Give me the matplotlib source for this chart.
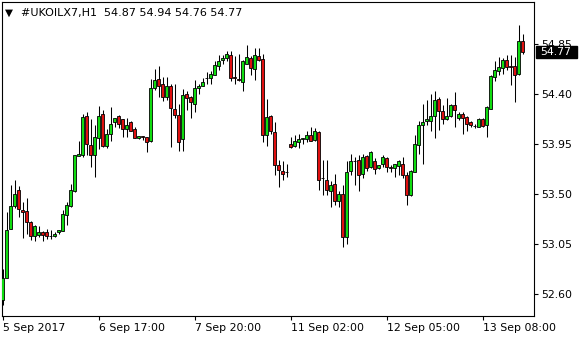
import matplotlib
matplotlib.use("Agg")
import matplotlib.pyplot as plt
from matplotlib.patches import Rectangle
from matplotlib.transforms import IdentityTransform
import numpy as np

symbol = "#UKOILX7,H1"

# hourly bars, oldest first
opens = [52.54, 52.74, 53.18, 53.39, 53.53, 53.35, 53.34, 53.24, 53.12, 53.13,
         53.15, 53.15, 53.12, 53.12, 53.15, 53.16, 53.31, 53.39, 53.52, 53.84,
         53.85, 54.20, 53.94, 53.85, 54.00, 54.22, 53.93, 54.04, 54.14, 54.20,
         54.17, 54.08, 54.14, 54.08, 54.00, 54.02, 54.01, 53.97, 54.45, 54.53,
         54.49, 54.37, 54.47, 54.26, 54.21, 53.99, 54.40, 54.37, 54.31, 54.45,
         54.47, 54.54, 54.54, 54.57, 54.65, 54.70, 54.72, 54.75, 54.55, 54.53,
         54.50, 54.67, 54.72, 54.62, 54.74, 54.71, 54.03, 54.20, 54.05, 53.76,
         53.70, 53.69, 53.95, 53.93, 53.96, 53.99, 53.99, 54.03, 53.98, 54.05,
         53.64, 53.62, 53.52, 53.59, 53.43, 53.50, 53.11, 53.70, 53.79, 53.80,
         53.68, 53.84, 53.74, 53.79, 53.73, 53.77, 53.82, 53.74, 53.73, 53.75,
         53.77, 53.67, 53.49, 53.69, 53.94, 54.12, 54.15, 54.15, 54.20, 54.35,
         54.24, 54.17, 54.20, 54.30, 54.18, 54.22, 54.19, 54.14, 54.11, 54.10,
         54.17, 54.12, 54.26, 54.55, 54.60, 54.63, 54.70, 54.65, 54.65, 54.58,
         54.87]
highs = [52.82, 53.33, 53.58, 53.62, 53.57, 53.42, 53.46, 53.25, 53.22, 53.21,
         53.16, 53.18, 53.17, 53.15, 53.17, 53.35, 53.42, 53.59, 53.85, 53.97,
         54.22, 54.23, 54.17, 54.12, 54.29, 54.25, 54.08, 54.28, 54.18, 54.21,
         54.17, 54.18, 54.15, 54.10, 54.02, 54.02, 54.01, 54.53, 54.62, 54.65,
         54.55, 54.55, 54.49, 54.49, 54.31, 54.44, 54.42, 54.38, 54.52, 54.49,
         54.54, 54.59, 54.60, 54.69, 54.75, 54.75, 54.78, 54.78, 54.74, 54.76,
         54.70, 54.84, 54.74, 54.81, 54.81, 54.76, 54.35, 54.21, 54.14, 53.80,
         53.79, 53.77, 54.01, 54.03, 54.04, 54.00, 54.06, 54.10, 54.09, 54.06,
         53.80, 53.80, 53.61, 53.68, 53.52, 53.58, 53.79, 53.86, 53.83, 53.85,
         53.86, 53.85, 53.88, 53.82, 53.76, 53.85, 53.83, 53.76, 53.77, 53.80,
         53.83, 53.69, 53.71, 54.03, 54.15, 54.31, 54.34, 54.40, 54.42, 54.37,
         54.30, 54.36, 54.31, 54.41, 54.23, 54.23, 54.20, 54.15, 54.13, 54.18,
         54.18, 54.29, 54.57, 54.69, 54.73, 54.72, 54.75, 54.75, 54.73, 55.02,
         54.94]
lows = [52.50, 52.74, 53.18, 53.37, 53.29, 53.10, 53.14, 53.08, 53.07, 53.11,
        53.07, 53.09, 53.09, 53.11, 53.14, 53.16, 53.22, 53.38, 53.51, 53.84,
        53.83, 53.85, 53.74, 53.65, 53.90, 53.92, 53.91, 53.97, 54.10, 54.09,
        54.01, 54.01, 54.06, 54.00, 53.99, 53.98, 53.87, 53.96, 54.43, 54.37,
        54.33, 54.34, 53.92, 54.18, 53.88, 53.88, 54.25, 54.18, 54.23, 54.40,
        54.47, 54.49, 54.49, 54.57, 54.61, 54.67, 54.69, 54.51, 54.49, 54.51,
        54.42, 54.67, 54.57, 54.52, 54.69, 53.96, 53.93, 54.04, 53.67, 53.56,
        53.62, 53.65, 53.91, 53.92, 53.91, 53.95, 53.96, 53.97, 53.97, 53.53,
        53.49, 53.49, 53.38, 53.40, 53.38, 53.02, 53.05, 53.67, 53.58, 53.52,
        53.64, 53.70, 53.73, 53.68, 53.72, 53.74, 53.69, 53.69, 53.65, 53.67,
        53.64, 53.40, 53.48, 53.69, 53.86, 53.77, 54.12, 54.06, 54.00, 54.07,
        54.13, 54.16, 54.19, 54.10, 54.16, 54.04, 54.06, 54.10, 54.09, 54.10,
        54.10, 54.01, 54.26, 54.51, 54.57, 54.58, 54.61, 54.48, 54.32, 54.57,
        54.76]
closes = [52.74, 53.17, 53.39, 53.50, 53.36, 53.33, 53.24, 53.12, 53.21, 53.15,
          53.13, 53.12, 53.12, 53.14, 53.17, 53.32, 53.40, 53.53, 53.85, 53.86,
          54.19, 53.95, 53.85, 54.01, 54.20, 53.93, 54.04, 54.13, 54.18, 54.13,
          54.08, 54.12, 54.06, 54.00, 54.02, 54.01, 53.96, 54.45, 54.52, 54.47,
          54.37, 54.47, 54.27, 54.21, 53.96, 54.39, 54.36, 54.32, 54.45, 54.47,
          54.50, 54.54, 54.58, 54.66, 54.69, 54.72, 54.76, 54.54, 54.54, 54.52,
          54.69, 54.73, 54.63, 54.75, 54.70, 54.03, 54.19, 54.06, 53.76, 53.71,
          53.68, 53.69, 53.92, 53.97, 53.99, 54.00, 54.03, 53.97, 54.06, 53.62,
          53.64, 53.53, 53.58, 53.43, 53.50, 53.11, 53.69, 53.79, 53.79, 53.67,
          53.83, 53.73, 53.87, 53.72, 53.76, 53.83, 53.74, 53.73, 53.77, 53.79,
          53.67, 53.49, 53.70, 53.95, 54.12, 54.14, 54.17, 54.20, 54.34, 54.24,
          54.17, 54.20, 54.30, 54.25, 54.22, 54.18, 54.13, 54.12, 54.11, 54.17,
          54.11, 54.28, 54.56, 54.61, 54.64, 54.70, 54.64, 54.64, 54.57, 54.87,
          54.77]

tick_bars = [0, 24, 48, 72, 96, 120]
tick_labels = ["5 Sep 2017", "6 Sep 17:00", "7 Sep 20:00",
               "11 Sep 02:00", "12 Sep 05:00", "13 Sep 08:00"]
price_ticks = [52.60, 53.05, 53.50, 53.95, 54.40, 54.85]

bull = "#10dc10"
bear = "#e01010"

plt.rcParams["font.family"] = "DejaVu Sans"
plt.rcParams["font.size"] = 7.8

W, H = 580, 340
fig = plt.figure(figsize=(W / 100, H / 100), dpi=100)
fig.patch.set_facecolor("white")
ax = fig.add_axes([2 / W, 24 / H, 532 / W, 314.5 / H])

o = np.array(opens)
h = np.array(highs)
l = np.array(lows)
c = np.array(closes)
x = np.arange(len(o))
up = c >= o

ax.vlines(x, l, h, color="black", linewidth=0.75, zorder=2)
ax.bar(x[up], (c - o)[up], bottom=o[up], width=0.78, color=bull,
       edgecolor="black", linewidth=0.6, zorder=3)
ax.bar(x[~up], (o - c)[~up], bottom=c[~up], width=0.78, color=bear,
       edgecolor="black", linewidth=0.6, zorder=3)

ax.set_xlim(-0.2, 132.8)
ax.set_ylim(52.3975, 55.228)

ax.set_xticks(tick_bars)
ax.set_xticklabels(tick_labels)
for lab in ax.get_xticklabels():
    lab.set_horizontalalignment("left")
ax.tick_params(axis="x", direction="out", length=3, width=0.8, pad=2)

ax.yaxis.tick_right()
ax.set_yticks(price_ticks)
ax.set_yticklabels([f"{p:.2f}" for p in price_ticks])
ax.tick_params(axis="y", direction="out", length=2.6, width=0.8, pad=2.5)

for s in ax.spines.values():
    s.set_linewidth(0.8)
    s.set_color("black")

# header line
fig.text(5 / W, 1 - 12.5 / H, "\u25bc", fontsize=7.5, va="center", ha="left")
header = symbol + "  " + " ".join(f"{v:.2f}" for v in (o[-1], h[-1], l[-1], c[-1]))
fig.text(21 / W, 1 - 13 / H, header, va="center", ha="left", fontsize=8)

# last price marker on the price scale
fig.canvas.draw()
yd = ax.transData.transform((0, c[-1]))[1]
fig.add_artist(Rectangle((536, yd - 5.5), 41, 12, transform=IdentityTransform(),
                         facecolor="black", edgecolor="black", zorder=5))
fig.text(540, yd + 0.5, f"{c[-1]:.2f}", color="white", va="center", ha="left",
         transform=IdentityTransform(), zorder=6)

fig.savefig("out.png", dpi=100)
